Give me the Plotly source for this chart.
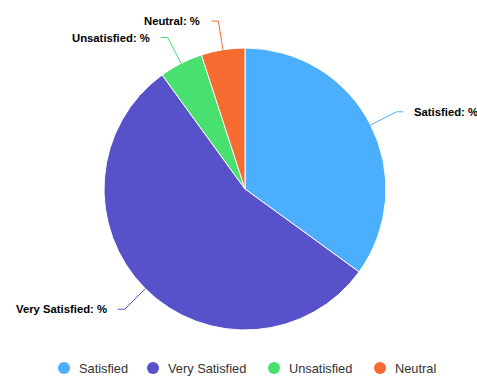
import math
import plotly.graph_objects as go

categories = ["Satisfied", "Very Satisfied", "Unsatisfied", "Neutral"]
values = [35, 55, 5, 5]
colors = ["#4CAEFE", "#5752C9", "#48E06F", "#F56B30"]
label_texts = [c + ": %" for c in categories]

W, H = 477, 388
cx, cy, R = 245, 189, 141  # pie centre / radius in px
legend_marker_x = [64, 153, 274, 380]  # legend layout (px)
legend_y = 368

dom_x = [(cx - R) / W, (cx + R) / W]
dom_y = [1 - (cy + R) / H, 1 - (cy - R) / H]

FONT = "Liberation Sans, Arial, sans-serif"

fig = go.Figure()
fig.add_trace(go.Pie(
    labels=categories, values=values, sort=False, direction="clockwise",
    rotation=0, marker=dict(colors=colors, line=dict(color="white", width=1)),
    textinfo="none", hoverinfo="label+percent", showlegend=False,
    domain=dict(x=dom_x, y=dom_y),
))

def px(x, y):
    return x / W, 1 - y / H

total = sum(values)
cum = 0
shapes, annos = [], []
for lab, v, col in zip(label_texts, values, colors):
    mid = (cum + v / 2) / total * 2 * math.pi
    cum += v
    s, c = math.sin(mid), math.cos(mid)
    x0, y0 = cx + R * s, cy - R * c
    x1, y1 = cx + (R + 29) * s, cy - (R + 29) * c
    side = 1 if s >= 0 else -1
    x2 = x1 + side * 7
    p0, p1, p2 = px(x0, y0), px(x1, y1), px(x2, y1)
    shapes.append(dict(type="path", xref="paper", yref="paper",
                       path=f"M {p0[0]},{p0[1]} L {p1[0]},{p1[1]} L {p2[0]},{p2[1]}",
                       line=dict(color=col, width=1)))
    tx = px(x2 + side * 9, y1)
    annos.append(dict(x=tx[0], y=tx[1], xref="paper", yref="paper", text=f"<b>{lab}</b>",
                      showarrow=False, xanchor="left" if side > 0 else "right",
                      yanchor="middle", font=dict(size=11.3, color="#000000", family=FONT)))

# legend (circle symbols)
for name, col, mx in zip(categories, colors, legend_marker_x):
    a, b = px(mx - 6, legend_y - 6)
    c2, d = px(mx + 6, legend_y + 6)
    shapes.append(dict(type="circle", xref="paper", yref="paper", x0=a, x1=c2, y0=d, y1=b,
                       fillcolor=col, line=dict(width=0)))
    t = px(mx + 13, legend_y)
    annos.append(dict(x=t[0], y=t[1], xref="paper", yref="paper", text=name, showarrow=False,
                      xanchor="left", yanchor="middle",
                      font=dict(size=12.8, color="#333333", family=FONT)))

fig.update_layout(
    width=W, height=H, margin=dict(l=0, r=0, t=0, b=0),
    paper_bgcolor="white", plot_bgcolor="white",
    shapes=shapes, annotations=annos, showlegend=False,
    font=dict(family=FONT, size=13, color="#333333"),
)
fig.write_html("out.html", config={"displayModeBar": False},
               post_script="document.body.style.margin='0';document.body.style.overflow='hidden';")
